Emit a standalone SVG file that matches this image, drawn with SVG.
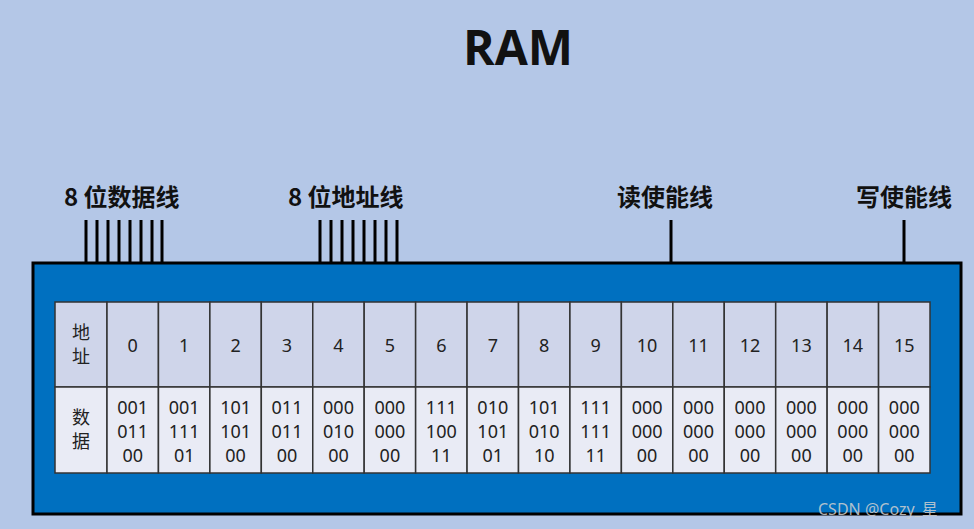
<svg xmlns="http://www.w3.org/2000/svg" width="974" height="529" viewBox="0 0 974 529">
<style>
.lbl{font-family:"Noto Sans CJK SC","Noto Sans",sans-serif;font-weight:bold;font-size:24px;fill:#111}
.t{font-family:"Noto Sans","Noto Sans CJK SC",sans-serif;font-size:18px;fill:#222;text-anchor:middle}
.h{fill:#cfd5ea;stroke:#333;stroke-width:1.5}
.d{fill:#e9ebf5;stroke:#333;stroke-width:1.5}
.w{stroke:#000;stroke-width:3}
</style>
<rect width="974" height="529" fill="#b4c7e7"/>
<text x="518" y="65" text-anchor="middle" style="font-family:'Open Sans','Noto Sans',sans-serif;font-weight:bold;font-size:48px;fill:#111">RAM</text>
<g id="labels">
<text class="lbl" x="64" y="206">8 位数据线</text>
<text class="lbl" x="288" y="206">8 位地址线</text>
<text class="lbl" x="617" y="206">读使能线</text>
<text class="lbl" x="856" y="206">写使能线</text>
</g>
<g id="connectors" class="w">
<path d="M86 220V263M97 220V263M108 220V263M119 220V263M130 220V263M141 220V263M152 220V263M162 220V263"/>
<path d="M320 220V263M331 220V263M342 220V263M353 220V263M364 220V263M375 220V263M386 220V263M397 220V263"/>
<path d="M671 220V263M904 220V263"/>
</g>
<g id="ram">
<rect x="33" y="263" width="928" height="251" fill="#0070c0" stroke="#000" stroke-width="3"/>
</g>
<g id="table">
<rect class="h" x="55" y="302" width="52" height="85"/>
<rect class="d" x="55" y="387" width="52" height="86"/>
<text class="t" x="81" y="339">地</text><text class="t" x="81" y="363">址</text>
<text class="t" x="81" y="424">数</text><text class="t" x="81" y="448">据</text>
<g id="cells">
<rect class="h" x="107" y="302" width="51.44" height="85"/><rect class="d" x="107" y="387" width="51.44" height="86"/>
<rect class="h" x="158.44" y="302" width="51.44" height="85"/><rect class="d" x="158.44" y="387" width="51.44" height="86"/>
<rect class="h" x="209.88" y="302" width="51.44" height="85"/><rect class="d" x="209.88" y="387" width="51.44" height="86"/>
<rect class="h" x="261.31" y="302" width="51.44" height="85"/><rect class="d" x="261.31" y="387" width="51.44" height="86"/>
<rect class="h" x="312.75" y="302" width="51.44" height="85"/><rect class="d" x="312.75" y="387" width="51.44" height="86"/>
<rect class="h" x="364.19" y="302" width="51.44" height="85"/><rect class="d" x="364.19" y="387" width="51.44" height="86"/>
<rect class="h" x="415.63" y="302" width="51.44" height="85"/><rect class="d" x="415.63" y="387" width="51.44" height="86"/>
<rect class="h" x="467.06" y="302" width="51.44" height="85"/><rect class="d" x="467.06" y="387" width="51.44" height="86"/>
<rect class="h" x="518.5" y="302" width="51.44" height="85"/><rect class="d" x="518.5" y="387" width="51.44" height="86"/>
<rect class="h" x="569.94" y="302" width="51.44" height="85"/><rect class="d" x="569.94" y="387" width="51.44" height="86"/>
<rect class="h" x="621.38" y="302" width="51.44" height="85"/><rect class="d" x="621.38" y="387" width="51.44" height="86"/>
<rect class="h" x="672.81" y="302" width="51.44" height="85"/><rect class="d" x="672.81" y="387" width="51.44" height="86"/>
<rect class="h" x="724.25" y="302" width="51.44" height="85"/><rect class="d" x="724.25" y="387" width="51.44" height="86"/>
<rect class="h" x="775.69" y="302" width="51.44" height="85"/><rect class="d" x="775.69" y="387" width="51.44" height="86"/>
<rect class="h" x="827.13" y="302" width="51.44" height="85"/><rect class="d" x="827.13" y="387" width="51.44" height="86"/>
<rect class="h" x="878.56" y="302" width="51.44" height="85"/><rect class="d" x="878.56" y="387" width="51.44" height="86"/>
</g>
<g id="addr">
<text class="t" x="132.7" y="352">0</text><text class="t" x="184.2" y="352">1</text><text class="t" x="235.6" y="352">2</text><text class="t" x="287" y="352">3</text>
<text class="t" x="338.5" y="352">4</text><text class="t" x="389.9" y="352">5</text><text class="t" x="441.3" y="352">6</text><text class="t" x="492.8" y="352">7</text>
<text class="t" x="544.2" y="352">8</text><text class="t" x="595.7" y="352">9</text><text class="t" x="647.1" y="352">10</text><text class="t" x="698.5" y="352">11</text>
<text class="t" x="750" y="352">12</text><text class="t" x="801.4" y="352">13</text><text class="t" x="852.8" y="352">14</text><text class="t" x="904.3" y="352">15</text>
</g>
<g id="data">
<text class="t" x="132.7" y="414">001<tspan x="132.7" y="438">011</tspan><tspan x="132.7" y="462">00</tspan></text>
<text class="t" x="184.2" y="414">001<tspan x="184.2" y="438">111</tspan><tspan x="184.2" y="462">01</tspan></text>
<text class="t" x="235.6" y="414">101<tspan x="235.6" y="438">101</tspan><tspan x="235.6" y="462">00</tspan></text>
<text class="t" x="287" y="414">011<tspan x="287" y="438">011</tspan><tspan x="287" y="462">00</tspan></text>
<text class="t" x="338.5" y="414">000<tspan x="338.5" y="438">010</tspan><tspan x="338.5" y="462">00</tspan></text>
<text class="t" x="389.9" y="414">000<tspan x="389.9" y="438">000</tspan><tspan x="389.9" y="462">00</tspan></text>
<text class="t" x="441.3" y="414">111<tspan x="441.3" y="438">100</tspan><tspan x="441.3" y="462">11</tspan></text>
<text class="t" x="492.8" y="414">010<tspan x="492.8" y="438">101</tspan><tspan x="492.8" y="462">01</tspan></text>
<text class="t" x="544.2" y="414">101<tspan x="544.2" y="438">010</tspan><tspan x="544.2" y="462">10</tspan></text>
<text class="t" x="595.7" y="414">111<tspan x="595.7" y="438">111</tspan><tspan x="595.7" y="462">11</tspan></text>
<text class="t" x="647.1" y="414">000<tspan x="647.1" y="438">000</tspan><tspan x="647.1" y="462">00</tspan></text>
<text class="t" x="698.5" y="414">000<tspan x="698.5" y="438">000</tspan><tspan x="698.5" y="462">00</tspan></text>
<text class="t" x="750" y="414">000<tspan x="750" y="438">000</tspan><tspan x="750" y="462">00</tspan></text>
<text class="t" x="801.4" y="414">000<tspan x="801.4" y="438">000</tspan><tspan x="801.4" y="462">00</tspan></text>
<text class="t" x="852.8" y="414">000<tspan x="852.8" y="438">000</tspan><tspan x="852.8" y="462">00</tspan></text>
<text class="t" x="904.3" y="414">000<tspan x="904.3" y="438">000</tspan><tspan x="904.3" y="462">00</tspan></text>
</g>
</g>
<text x="818" y="515" style="font-family:'Noto Sans','Noto Sans CJK SC',sans-serif;font-size:16px;fill:#d0d0d0;fill-opacity:0.85">CSDN @Cozy_星</text>
</svg>
